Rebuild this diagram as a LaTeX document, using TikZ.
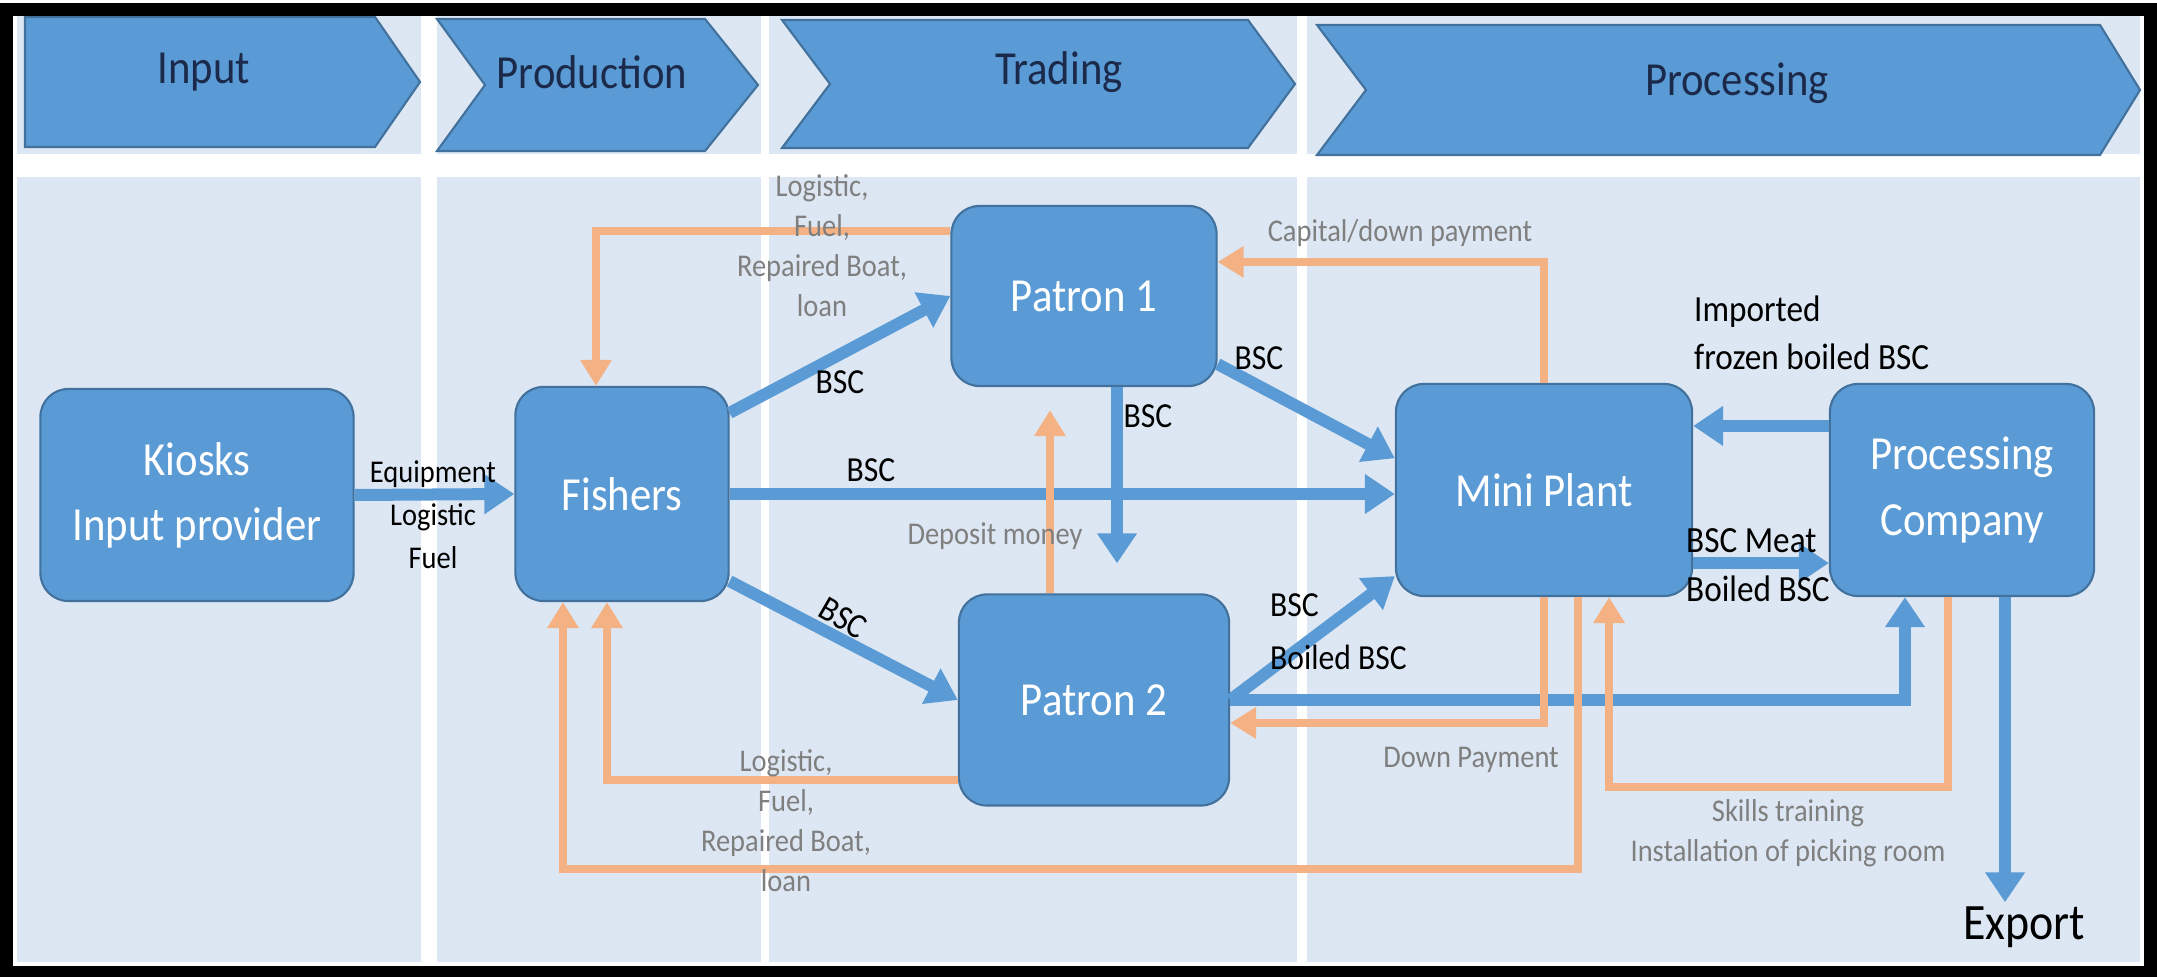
\documentclass[tikz,border=0pt]{standalone}
\usepackage{fontspec}
\setmainfont{Carlito}[FakeStretch=0.9]
\usetikzlibrary{arrows.meta}

\definecolor{colbg}{HTML}{DDE7F3}
\definecolor{boxblue}{HTML}{5B9BD5}
\definecolor{boxline}{HTML}{41719C}
\definecolor{flowor}{HTML}{F4B183}
\definecolor{labgrey}{HTML}{7F7F7F}
\definecolor{headtxt}{HTML}{1B2A4A}

\tikzset{
  actor/.style={rectangle, rounded corners=0.28cm, fill=boxblue, draw=boxline, line width=0.6pt,
    text=white, align=center, font=\fontsize{13.5}{18.5}\selectfont, inner sep=0pt},
  chevron/.style={fill=boxblue, draw=boxline, line width=0.6pt},
  stage/.style={text=headtxt, font=\fontsize{13.5}{16}\selectfont},
  goods/.style={draw=boxblue, line width=0.12cm, -{Triangle[length=0.3cm,width=0.38cm]}},
  money/.style={draw=flowor, line width=0.085cm, -{Triangle[length=0.26cm,width=0.3cm]}},
  blab/.style={text=black, font=\fontsize{10}{15}\selectfont, inner sep=1pt},
  glab/.style={text=labgrey, font=\fontsize{9}{11.4}\selectfont, align=center, inner sep=1pt}
}

\begin{document}
\begin{tikzpicture}[x=0.01cm, y=-0.01cm]

        \useasboundingbox (0,0) rectangle (2157,977);
        \fill[white] (0,0) rectangle (2157,977);

        \foreach \xa/\xb in {17/421, 437/761, 769/1297, 1307/2140} {
          \fill[colbg] (\xa,14) rectangle (\xb,154);
          \fill[colbg] (\xa,177) rectangle (\xb,962);
        }

        \fill[chevron] (25,17) -- (375,17) -- (420,82) -- (375,147) -- (25,147) -- cycle;
        \fill[chevron] (437,19) -- (705,19) -- (758,85) -- (705,151) -- (437,151) -- (485,85) -- cycle;
        \fill[chevron] (782,20) -- (1248,20) -- (1295,84) -- (1248,148) -- (782,148) -- (830,84) -- cycle;
        \fill[chevron] (1317,25) -- (2100,25) -- (2140,90) -- (2100,155) -- (1317,155) -- (1366,90) -- cycle;

        \begin{scope}[every node/.style={stage}]
          \node (hinput) at (204,72)  {Input};
          \node (hprod)  at (592,72)  {Production};
          \node (htrade) at (1059,72) {Trading};
          \node (hproc)  at (1737,83) {Processing};
        \end{scope}

        \draw[line width=0.13cm] (6.5,10) rectangle (2150,972.5);

        \begin{scope}[every node/.style={actor}]
          \node[minimum width=3.13cm, minimum height=2.12cm] (kiosks)    at (197,495)  {Kiosks\\Input provider};
          \node[minimum width=2.13cm, minimum height=2.14cm] (fishers)   at (622,494)  {Fishers};
          \node[minimum width=2.65cm, minimum height=1.80cm] (patron1)   at (1084,296) {Patron 1};
          \node[minimum width=2.70cm, minimum height=2.11cm] (patron2)   at (1094,700) {Patron 2};
          \node[minimum width=2.96cm, minimum height=2.12cm] (miniplant) at (1544,490) {Mini Plant};
          \node[minimum width=2.64cm, minimum height=2.12cm] (proccomp)  at (1962,490) {Processing\\Company};
        \end{scope}

        \node[blab, font=\fontsize{14.5}{16}\selectfont] (export) at (2024,927) {Export};

        \begin{scope}[every path/.style={goods}]
          \draw (kiosks.east) -- (fishers.west);
          \draw (fishers.37) -- (patron1.west);
          \draw (fishers.east) -- (fishers.east -| miniplant.west);
          \draw (fishers.-39) -- (patron2.west);
          \draw[shorten >=0.3cm] ([xshift=0.33cm]patron1.south) -- ([xshift=0.33cm]patron1.south |- patron2.north);
          \draw (patron1.-27) -- (miniplant.168);
          \draw (patron2.east) -- (miniplant.210);
          \draw (patron2.east) -| ([xshift=-0.57cm]proccomp.south);
          \draw ([yshift=0.64cm]proccomp.west) -- ([yshift=0.64cm]proccomp.west -| miniplant.east);
          \draw ([yshift=-0.73cm]miniplant.east) -- ([yshift=-0.73cm]miniplant.east -| proccomp.west);
          \draw ([xshift=0.43cm]proccomp.south) -- ([xshift=0.43cm]proccomp.south |- export.north);
        \end{scope}

        \coordinate (lowline) at (0,869);
        \coordinate (skline)  at (0,787);

        \begin{scope}[every path/.style={money}]
          \draw ([yshift=0.65cm]patron1.west) -| ([xshift=-0.26cm]fishers.north);
          \draw ([yshift=-0.8cm]patron2.west) -| ([xshift=-0.15cm]fishers.south);
          \draw ([xshift=0.34cm]miniplant.south) |- ([xshift=-0.59cm]fishers.south |- lowline) -- ([xshift=-0.59cm]fishers.south);
          \draw (miniplant.south) |- ([yshift=-0.23cm]patron2.east);
          \draw (miniplant.north) |- ([yshift=0.34cm]patron1.east);
          \draw[shorten >=0.23cm] ([xshift=-0.44cm]patron2.north) -- ([xshift=-0.44cm]patron2.north |- patron1.south);
          \draw ([xshift=-0.14cm]proccomp.south) |- ([xshift=0.65cm]miniplant.south |- skline) -- ([xshift=0.65cm]miniplant.south);
        \end{scope}

        \begin{scope}[every node/.style={blab}]
          \node[align=center, font=\fontsize{9}{12.2}\selectfont] (lequip) at (433,515) {Equipment\\Logistic\\Fuel};
          \node (lbsc1) at (840,382)  {BSC};
          \node (lbsc2) at (871,470)  {BSC};
          \node[rotate=-30] (lbsc3) at (843,618) {BSC};
          \node (lbsc4) at (1148,416) {BSC};
          \node (lbsc5) at (1259,358) {BSC};
          \node[align=left, anchor=west] (lboil) at (1266,632) {BSC\\Boiled BSC};
          \node[align=left, anchor=west, font=\fontsize{10.5}{13.5}\selectfont] (limport) at (1690,333) {Imported\\frozen boiled BSC};
          \node[align=left, anchor=west, font=\fontsize{10.5}{14}\selectfont] (lmeat) at (1682,565) {BSC Meat\\Boiled BSC};
        \end{scope}

        \begin{scope}[every node/.style={glab}]
          \node (lsup1)   at (822,246)  {Logistic,\\Fuel,\\Repaired Boat,\\loan};
          \node (lsup2)   at (786,821)  {Logistic,\\Fuel,\\Repaired Boat,\\loan};
          \node (ldown)   at (1471,760) {Down Payment};
          \node (lcap)    at (1400,233) {Capital/down payment};
          \node (ldep)    at (995,536)  {Deposit money};
          \node (lskill)  at (1788,833) {Skills training\\Installation of picking room};
        \end{scope}

      \end{tikzpicture}
\end{document}
